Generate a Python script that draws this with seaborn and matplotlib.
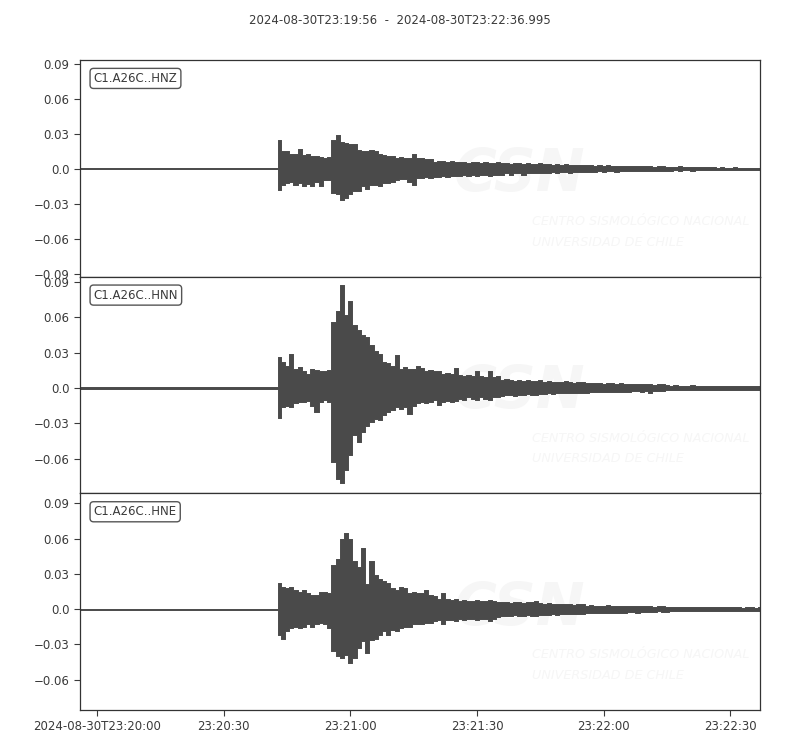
# Seismogram plot, station C1.A26C (3 components)
import numpy as np
import pandas as pd
import matplotlib
matplotlib.use("Agg")
import matplotlib.pyplot as plt
import seaborn as sns

# ============================================
# Data (amplitude envelope in units of 0.001, read per second)
# ============================================

start = pd.Timestamp("2024-08-30 23:19:56")
end = pd.Timestamp("2024-08-30 23:22:36.995")
title = "2024-08-30T23:19:56  -  2024-08-30T23:22:36.995"

channels = ["C1.A26C..HNZ", "C1.A26C..HNN", "C1.A26C..HNE"]

# seconds after start: quiet part, then one reading per second
pre_sec = [0, 10, 20, 30, 40, 46.8]
event_sec = list(np.arange(47, 162))

pre_upper = [0.5, 0.5, 0.5, 0.5, 0.5, 0.5]
pre_lower = [-0.5, -0.5, -0.5, -0.5, -0.5, -0.5]

hnz_upper = [25, 15, 15, 13, 13, 17, 12, 13, 11, 11, 10, 9, 10, 25, 29, 23, 22, 21, 21, 16,
             15, 15, 16, 15, 13, 12, 11, 11, 9, 10, 9, 9, 13, 9, 9, 8, 8, 6,
             7, 7, 6, 7, 6,
             6, 6, 5, 6, 6, 5, 6, 5, 5, 6,
             5, 5, 4, 5, 5, 4, 5, 4, 4, 5,
             4, 4, 3.5, 4, 3.5, 4, 3.5, 3, 3.5, 3,
             3, 3, 2.5, 3, 2.5, 3, 2.5, 2.5, 2, 2.5,
             2, 2, 2, 2.5, 2, 2, 1.5, 2, 2, 1.5,
             1.5, 1.5, 2, 1.5, 1.5, 1.5, 1.2, 1.5, 1.2, 1.2,
             1.2, 1, 1.2, 1, 1, 1.2, 1, 1, 1, 0.8, 1, 0.8]
hnz_lower = [-18, -14, -12, -11, -14, -12, -15, -13, -15, -11, -15, -10, -10, -21, -22, -27, -25, -22, -19, -19,
             -15, -17, -14, -14, -15, -12, -12, -11, -10, -9, -9, -11, -14, -8, -8, -7, -8, -7,
             -7, -6, -7, -6, -6,
             -6, -5, -6, -5, -6, -5, -5, -6, -5, -5,
             -5, -4, -5, -4, -4, -5, -4, -4, -4, -3.5,
             -3.5, -3.5, -3, -3.5, -3, -3, -3.5, -3, -3, -2.5,
             -2.5, -2.5, -2.5, -2, -2.5, -2, -2, -2.5, -2, -2,
             -2, -2, -1.5, -2, -1.5, -2, -1.5, -1.5, -1.5, -1.5,
             -1.5, -1.2, -1.5, -1.2, -1.2, -1.5, -1.2, -1, -1.2, -1.2,
             -1, -1, -1.2, -1, -1, -0.8, -1, -1, -0.8, -1, -0.8, -0.8]

hnn_upper = [26, 22, 19, 29, 16, 18, 14, 12, 16, 15, 14, 14, 15, 56, 65, 87, 62, 74, 53, 49,
             45, 43, 36, 31, 29, 22, 21, 19, 28, 16, 18, 16, 16, 19, 17, 14, 15, 14,
             14, 12, 13, 12, 17,
             11, 10, 11, 10, 14, 10, 9, 14, 9, 10,
             7, 8, 7, 6, 7, 6, 7, 6, 6, 7,
             5, 6, 5, 5, 5, 6, 5, 4.5, 5, 5,
             4, 4, 4.5, 4, 3.5, 4, 4, 3.5, 4, 3.5,
             3, 3, 3.5, 3, 3, 3, 2.5, 3, 3, 2.5,
             2, 2.5, 2, 2, 2, 2.5, 2, 2, 2, 2,
             1.7, 2, 1.7, 1.7, 1.5, 1.7, 2, 1.7, 1.5, 1.7, 1.5, 1.5]
hnn_lower = [-25, -16, -15, -16, -13, -12, -12, -11, -15, -20, -12, -10, -12, -63, -77, -80, -69, -57, -40, -46,
             -37, -32, -29, -26, -27, -23, -20, -19, -16, -18, -16, -22, -15, -13, -12, -13, -12, -10,
             -14, -12, -11, -12, -11,
             -9, -10, -8, -9, -10, -8, -9, -10, -8, -8,
             -7, -6, -6, -7, -6, -6, -5, -6, -6, -5,
             -5, -4.5, -5, -4.5, -4, -4.5, -4.5, -4, -4.5, -4,
             -4, -3.5, -3.5, -3.5, -3, -3.5, -3.5, -3, -3.5, -3,
             -3, -2.5, -2.5, -3, -2.5, -4, -2.5, -2.5, -2.5, -2,
             -2, -2, -2, -2, -2, -1.8, -2, -2, -1.8, -1.8,
             -1.5, -1.5, -1.7, -1.5, -1.5, -1.5, -1.5, -1.3, -1.5, -1.5, -1.3, -1.3]

hne_upper = [22, 19, 18, 19, 16, 15, 16, 14, 12, 12, 15, 15, 14, 38, 43, 60, 65, 60, 41, 36,
             52, 21, 41, 29, 26, 24, 22, 18, 16, 19, 18, 14, 15, 14, 14, 16, 12, 11,
             9, 14, 9, 8, 9,
             7, 8, 7, 7, 8, 7, 7, 8, 7, 6,
             6, 6, 5, 6, 6, 5, 6, 6, 7, 5,
             4, 5, 4, 4, 4.5, 4, 4, 3.5, 4, 4,
             3, 3.5, 3, 3, 3, 3.5, 3, 3, 2.5, 3,
             2.5, 2.5, 2.5, 3, 2.5, 2.5, 2, 2.5, 2.5, 2,
             2, 2, 2, 2, 2, 1.8, 2, 2, 1.8, 1.8,
             1.5, 1.5, 1.7, 1.5, 1.5, 1.5, 1.5, 1.3, 1.5, 1.5, 1.3, 1.5]
hne_lower = [-22, -25, -19, -16, -15, -16, -15, -13, -15, -13, -12, -13, -16, -36, -40, -42, -39, -46, -42, -33,
             -27, -37, -26, -25, -22, -19, -22, -18, -19, -16, -15, -15, -13, -13, -13, -12, -12, -10,
             -9, -13, -9, -9, -10,
             -8, -9, -8, -8, -9, -8, -8, -10, -8, -7,
             -6, -6, -6, -5, -6, -6, -5, -6, -6, -5,
             -5, -5, -4.5, -5, -4.5, -4.5, -4, -4.5, -4, -4,
             -3.5, -3.5, -3.5, -3, -3.5, -3.5, -3, -3, -3.5, -3,
             -2.5, -2.5, -3, -2.5, -2.5, -2.5, -2.5, -2, -2.5, -2.5,
             -2, -2, -2, -2, -1.8, -2, -2, -1.8, -2, -1.8,
             -1.5, -1.5, -1.5, -1.5, -1.3, -1.5, -1.5, -1.5, -1.3, -1.5, -1.5, -1.3]

ylims = [(-0.0926, 0.0934), (-0.0891, 0.0942), (-0.0859, 0.0986)]

yticks = [-0.09, -0.06, -0.03, 0.0, 0.03, 0.06, 0.09]
ytick_labels = ["\u22120.09", "\u22120.06", "\u22120.03", "0.0", "0.03", "0.06", "0.09"]

xtick_times = ["23:20:00", "23:20:30", "23:21:00", "23:21:30", "23:22:00", "23:22:30"]
xtick_labels = ["2024-08-30T23:20:00", "23:20:30", "23:21:00", "23:21:30", "23:22:00", "23:22:30"]

# ============================================
# Build table
# ============================================

seconds = pre_sec + event_sec
envelopes = {
    channels[0]: (pre_upper + hnz_upper, pre_lower + hnz_lower),
    channels[1]: (pre_upper + hnn_upper, pre_lower + hnn_lower),
    channels[2]: (pre_upper + hne_upper, pre_lower + hne_lower),
}

frames = []
for ch in channels:
    up, lo = envelopes[ch]
    frames.append(pd.DataFrame({
        "time": start + pd.to_timedelta(seconds, unit="s"),
        "upper": np.array(up) / 1000.0,
        "lower": np.array(lo) / 1000.0,
        "channel": ch,
    }))
df = pd.concat(frames, ignore_index=True)

# ============================================
# Plot
# ============================================

sns.set_theme(style="ticks")
plt.rcParams["font.family"] = ["DejaVu Sans"]

trace_color = "#4a4a4a"
text_color = "#3a3a3a"
mark_color = "#f6f6f6"

fig, axes = plt.subplots(3, 1, figsize=(8, 7.5), dpi=100, sharex=True)
fig.subplots_adjust(left=0.1, right=0.95, top=0.92, bottom=0.0533, hspace=0)

for i, ch in enumerate(channels):
    ax = axes[i]
    d = df[df["channel"] == ch]

    # faint watermark behind the trace
    ax.text(0.55, 0.47, "CSN", transform=ax.transAxes, fontsize=42,
            fontweight="bold", fontstyle="italic", color=mark_color,
            ha="left", va="center", zorder=0, clip_on=True)
    ax.text(0.664, 0.255, "CENTRO SISMOLÓGICO NACIONAL", transform=ax.transAxes,
            fontsize=9.2, fontstyle="italic", color=mark_color, ha="left",
            va="center", zorder=0, clip_on=True)
    ax.text(0.664, 0.16, "UNIVERSIDAD DE CHILE", transform=ax.transAxes,
            fontsize=9.2, fontstyle="italic", color=mark_color, ha="left",
            va="center", zorder=0, clip_on=True)

    ax.fill_between(d["time"], d["lower"], d["upper"], step="mid",
                    color=trace_color, linewidth=0.5, zorder=2)
    sns.lineplot(x=d["time"], y=d["upper"], ax=ax, color=trace_color, lw=0.6,
                 drawstyle="steps-mid", zorder=2)
    sns.lineplot(x=d["time"], y=d["lower"], ax=ax, color=trace_color, lw=0.6,
                 drawstyle="steps-mid", zorder=2)

    ax.set_yticks(yticks)
    ax.set_yticklabels(ytick_labels)
    ax.set_ylim(ylims[i])
    ax.set_xlabel("")
    ax.set_ylabel("")

    ax.text(0.02, 0.945, ch, transform=ax.transAxes, fontsize=8.5,
            color=text_color, ha="left", va="top", zorder=5,
            bbox=dict(boxstyle="round,pad=0.3", fc="white", ec="#555555", lw=1))

    for sp in ax.spines.values():
        sp.set_visible(True)
        sp.set_color("#333333")
        sp.set_linewidth(0.9)
    ax.tick_params(labelsize=8.5, colors=text_color, length=4, width=0.8)

xt = [pd.Timestamp("2024-08-30 " + t) for t in xtick_times]
axes[-1].set_xticks(xt)
axes[-1].set_xticklabels(xtick_labels)
axes[-1].set_xlim(start, end)

fig.text(0.5, 1 - 20 / 750, title, ha="center", va="center", fontsize=8.5,
         color=text_color)

plt.savefig("out.png", dpi=100)
